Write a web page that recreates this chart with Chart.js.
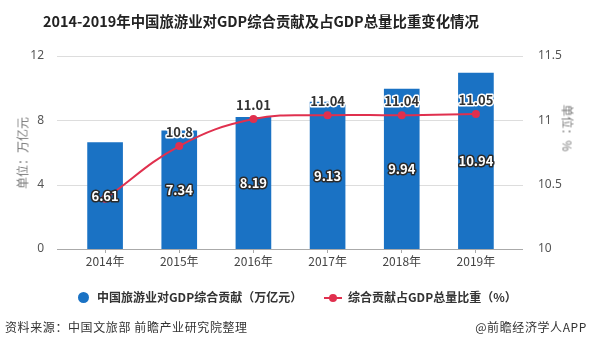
<!DOCTYPE html>
<html><head><meta charset="utf-8">
<script src="https://cdn.jsdelivr.net/npm/chart.js@4/dist/chart.umd.min.js"></script>
<style>
html,body{margin:0;padding:0;background:#fff;}
#wrap{position:relative;width:591px;height:351px;overflow:hidden;font-family:"Noto Sans CJK SC","Noto Sans",sans-serif;}
canvas{position:absolute;left:0;top:0;}
.t{position:absolute;white-space:nowrap;color:#333;}
#title{left:43px;top:10px;font-size:14.4px;font-weight:bold;color:#222;}
#ylt{left:22px;top:153px;transform:translate(-50%,-50%) rotate(-90deg);font-size:12px;color:#777;}
#yrt{left:568px;top:128px;transform:translate(-50%,-50%) rotate(90deg);font-size:12px;color:#777;}
#lg1{left:78px;top:288px;font-size:12px;font-weight:bold;}
#lg2{left:324px;top:288px;font-size:12px;font-weight:bold;}
.dot{display:inline-block;width:11px;height:11px;border-radius:50%;background:#1a72c4;vertical-align:-1px;margin-right:8px;}
.ln{display:inline-block;position:relative;width:18px;height:11px;vertical-align:-1px;margin-right:6px;}
.ln:before{content:"";position:absolute;left:0;right:0;top:5px;height:2px;background:#e0304e;}
.ln:after{content:"";position:absolute;left:5px;top:2px;width:8px;height:8px;border-radius:50%;background:#e0304e;}
#src{left:5px;top:318px;font-size:12px;letter-spacing:0.6px;}
#app{right:4px;top:318px;font-size:12px;letter-spacing:0.6px;}
</style></head>
<body><div id="wrap">
<canvas id="c" width="591" height="351"></canvas>
<div class="t" id="title">2014-2019年中国旅游业对GDP综合贡献及占GDP总量比重变化情况</div>
<div class="t" id="ylt">单位：万亿元</div>
<div class="t" id="yrt">单位：%</div>
<div class="t" id="lg1"><span class="dot"></span>中国旅游业对GDP综合贡献（万亿元）</div>
<div class="t" id="lg2"><span class="ln"></span>综合贡献占GDP总量比重（%）</div>
<div class="t" id="src">资料来源：中国文旅部 前瞻产业研究院整理</div>
<div class="t" id="app">@前瞻经济学人APP</div>
</div>
<script>
const categories = ["2014年","2015年","2016年","2017年","2018年","2019年"];
const contribution = [6.61, 7.34, 8.19, 9.13, 9.94, 10.94];
const share = [10.39, 10.8, 11.01, 11.04, 11.04, 11.05];
const leftTicks = [0, 4, 8, 12];
const rightTicks = [10, 10.5, 11, 11.5];

const BLUE = '#1a72c4', RED = '#e0304e';

const gridPlugin = {
  id: 'grid',
  beforeDatasetsDraw(chart) {
    const ctx = chart.ctx, y = chart.scales.y;
    ctx.save();
    leftTicks.forEach(v => {
      const py = Math.round(y.getPixelForValue(v)) + 0.5;
      ctx.strokeStyle = v === 0 ? '#aaaaaa' : '#dddddd';
      ctx.lineWidth = 1;
      ctx.beginPath(); ctx.moveTo(57, py); ctx.lineTo(523, py); ctx.stroke();
    });
    ctx.restore();
  }
};
const labelPlugin = {
  id: 'labels',
  afterDatasetsDraw(chart) {
    const ctx = chart.ctx;
    ctx.save();
    ctx.font = 'bold 13px "Noto Sans CJK SC", sans-serif';
    ctx.textAlign = 'center'; ctx.textBaseline = 'middle';
    ctx.lineJoin = 'round';
    const bm = chart.getDatasetMeta(0);
    bm.data.forEach((el, i) => {
      const x = el.x, yy = (el.y + el.base) / 2;
      const s = contribution[i].toString();
      ctx.lineWidth = 3; ctx.strokeStyle = '#2a2a2a'; ctx.strokeText(s, x, yy);
      ctx.fillStyle = '#ffffff'; ctx.fillText(s, x, yy);
    });
    const lm = chart.getDatasetMeta(1);
    lm.data.forEach((el, i) => {
      if (i === 0) return;
      const s = share[i].toString();
      const yy = el.y - 14;
      ctx.lineWidth = 3; ctx.strokeStyle = '#ffffff'; ctx.strokeText(s, el.x, yy);
      ctx.fillStyle = '#333333'; ctx.fillText(s, el.x, yy);
    });
    ctx.restore();
  }
};

new Chart(document.getElementById('c'), {
  data: {
    labels: categories,
    datasets: [
      { type: 'bar', data: contribution, backgroundColor: BLUE, barThickness: 35, yAxisID: 'y', order: 2 },
      { type: 'line', data: share, borderColor: RED, backgroundColor: RED, borderWidth: 2,
        pointRadius: 4, pointHoverRadius: 4, pointBackgroundColor: RED, pointBorderWidth: 0,
        tension: 0.4, yAxisID: 'y2', order: 1 }
    ]
  },
  options: {
    responsive: false, animation: false, devicePixelRatio: 1,
    layout: { padding: { top: 56, left: 0, right: 0, bottom: 0 } },
    plugins: { legend: { display: false }, title: { display: false }, tooltip: { enabled: false } },
    scales: {
      x: {
        offset: true,
        grid: { display: true, drawOnChartArea: false, drawTicks: true, tickLength: 4, color: '#aaaaaa', offset: false },
        border: { display: false },
        ticks: { color: '#444', font: { size: 12, family: '"Noto Sans CJK SC", sans-serif' }, padding: 1, maxRotation: 0 },
        afterFit: s => { s.height = 102; }
      },
      y: {
        position: 'left', min: 0, max: 12,
        afterBuildTicks: s => { s.ticks = leftTicks.map(v => ({ value: v })); },
        grid: { display: false }, border: { display: false },
        ticks: { color: '#555', font: { size: 12, family: '"Noto Sans", sans-serif' }, padding: 16,
                 callback: v => String(v) },
        afterFit: s => { s.width = 68; }
      },
      y2: {
        position: 'right', min: 10, max: 11.5,
        afterBuildTicks: s => { s.ticks = rightTicks.map(v => ({ value: v })); },
        grid: { display: false }, border: { display: false },
        ticks: { color: '#555', font: { size: 12, family: '"Noto Sans", sans-serif' }, padding: 17,
                 callback: v => String(v) },
        afterFit: s => { s.width = 78; }
      }
    }
  },
  plugins: [gridPlugin, labelPlugin]
});
</script>
</body></html>
